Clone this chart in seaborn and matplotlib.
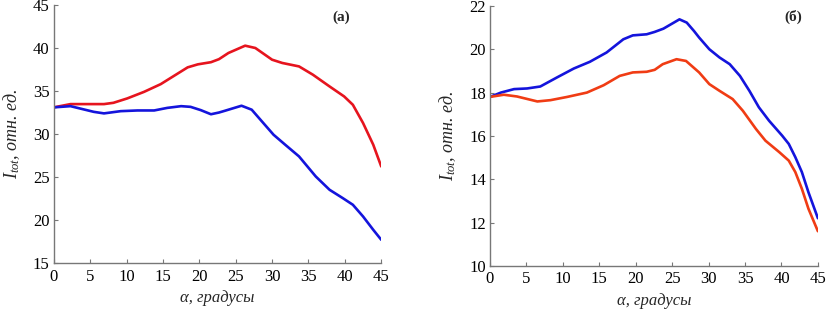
import numpy as np
import pandas as pd
import matplotlib
matplotlib.use("Agg")
import matplotlib.pyplot as plt
import seaborn as sns

sns.set_style("ticks")
plt.rcParams['font.family'] = ['Liberation Serif', 'DejaVu Serif']
plt.rcParams['mathtext.fontset'] = 'custom'
plt.rcParams['mathtext.rm'] = 'Liberation Serif'
plt.rcParams['mathtext.it'] = 'Liberation Serif:italic'

# panel (а): red curve
angle_a_red = [0, 2.3, 4.6, 6.9, 8.2, 10.1, 12.4, 14.7, 16.5, 18.4, 19.8, 21.6,
               22.7, 24.0, 26.3, 27.7, 30.0, 31.4, 33.7, 35.6, 37.9, 39.9, 41.1,
               42.5, 43.9, 45]
red_a = [33.1, 33.48, 33.48, 33.48, 33.63, 34.14, 34.9, 35.8, 36.75, 37.75, 38.1,
         38.35, 38.7, 39.42, 40.27, 40.0, 38.64, 38.26, 37.86, 36.9, 35.53, 34.37,
         33.4, 31.28, 28.76, 26.23]
# panel (а): blue curve
angle_a_blue = [0, 2.3, 3.6, 5.5, 6.9, 9.2, 11.5, 13.8, 15.6, 17.5, 18.8, 20.2,
                21.6, 22.7, 23.5, 25.8, 27.2, 28.6, 30.2, 31.8, 33.7, 36.0, 37.9,
                39.7, 41.1, 42.5, 43.9, 45]
blue_a = [33.1, 33.24, 32.97, 32.58, 32.4, 32.66, 32.74, 32.74, 33.04, 33.24,
          33.16, 32.78, 32.3, 32.5, 32.7, 33.29, 32.83, 31.47, 29.92, 28.76, 27.4,
          25.07, 23.52, 22.56, 21.78, 20.42, 18.87, 17.71]

# panel (б): blue curve
angle_b_blue = [0, 1.5, 3.3, 5.1, 6.9, 9.2, 11.5, 13.7, 16.0, 18.3, 19.6, 21.5,
                22.6, 23.8, 26.0, 27.0, 28.0, 28.7, 30.1, 31.5, 32.9, 34.3, 35.6,
                36.9, 38.3, 40.1, 41.0, 41.9, 42.8, 43.7, 45]
blue_b = [17.8, 18.0, 18.16, 18.19, 18.28, 18.7, 19.11, 19.42, 19.85, 20.46,
          20.64, 20.69, 20.8, 20.95, 21.38, 21.23, 20.84, 20.54, 20.0, 19.62,
          19.31, 18.77, 18.08, 17.32, 16.7, 16.01, 15.63, 15.02, 14.33, 13.4, 12.2]
# panel (б): red curve
angle_b_red = [0, 1.9, 3.7, 6.5, 8.3, 10.6, 13.3, 15.6, 17.8, 19.6, 21.5, 22.6,
               23.7, 25.6, 26.9, 28.7, 30.1, 31.5, 33.3, 34.7, 36.5, 37.8, 39.7,
               41.0, 41.9, 42.8, 43.7, 45]
red_b = [17.8, 17.9, 17.82, 17.59, 17.65, 17.8, 18.0, 18.34, 18.77, 18.93, 18.96,
         19.05, 19.31, 19.54, 19.46, 18.93, 18.39, 18.08, 17.7, 17.16, 16.32,
         15.78, 15.25, 14.86, 14.33, 13.56, 12.64, 11.6]

fig = plt.figure(figsize=(8.27, 3.11), dpi=100)
ax1 = fig.add_axes([0.065, 0.154, 0.396, 0.83])
ax2 = fig.add_axes([0.5925, 0.145, 0.3965, 0.836])

panels = [
    (ax1, [(angle_a_red, red_a, '#e6141e'), (angle_a_blue, blue_a, '#1414dc')],
     (15, 45), np.arange(15, 46, 5), '(а)', (0.878, 0.953)),
    (ax2, [(angle_b_blue, blue_b, '#1414dc'), (angle_b_red, red_b, '#f03c14')],
     (10, 22), np.arange(10, 23, 2), '(б)', (0.924, 0.958)),
]

for ax, series, ylim, yticks, tag, tagpos in panels:
    for x, y, c in series:
        df = pd.DataFrame({'x': x, 'y': y})
        sns.lineplot(data=df, x='x', y='y', ax=ax, color=c, linewidth=1.9)
    ax.set_xlim(0, 45)
    ax.set_ylim(*ylim)
    ax.set_xticks(np.arange(0, 46, 5))
    ax.set_yticks(yticks)
    ax.tick_params(direction='in', length=3, width=0.8, colors='#777777',
                   labelcolor='black', labelsize=12)
    ax.tick_params(axis='x', pad=4)
    ax.tick_params(axis='y', pad=3)
    sns.despine(ax=ax)
    for s in ('left', 'bottom'):
        ax.spines[s].set_color('#777777')
        ax.spines[s].set_linewidth(1.0)
    ax.set_xlabel('α, градусы', fontsize=12, style='italic', labelpad=4)
    ax.set_ylabel(r'$I_{tot}$, отн. ед.', fontsize=13, style='italic', labelpad=8)
    ax.text(tagpos[0], tagpos[1], tag, transform=ax.transAxes, fontsize=11,
            fontweight='bold', ha='center', va='center')

fig.savefig('out.png', dpi=100)
